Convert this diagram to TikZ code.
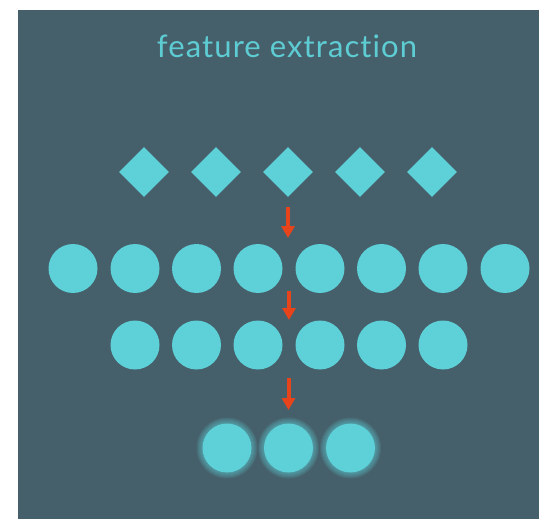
\documentclass[tikz,border=0pt]{standalone}
\usepackage{fontspec}
\setmainfont{Lato}[Ligatures={NoCommon,NoRare}]
\newfontfamily\titlefont{Lato}[Ligatures={NoCommon,NoRare},LetterSpace=3.5]
\usetikzlibrary{shapes.geometric,arrows.meta}
\definecolor{slate}{HTML}{46606B}
\definecolor{teal}{HTML}{5DD0D8}
\definecolor{titlecol}{HTML}{5ECDD3}
\definecolor{arrowred}{HTML}{E8441C}
\tikzset{
  unit/.style={circle,fill=teal,minimum size=49pt,inner sep=0pt},
  feat/.style={diamond,fill=teal,minimum width=50pt,minimum height=50pt,inner sep=0pt,aspect=1},
  flow/.style={draw=arrowred,line width=4pt,-{Triangle[width=13pt,length=12pt]}},
}
\begin{document}
\begin{tikzpicture}[x=1pt,y=-1pt]
  \useasboundingbox (0,0) rectangle (539,519);
  \fill[slate] (18,10) rectangle (539,519);

  \node[text=titlecol,font=\titlefont\fontsize{31}{34}\selectfont,anchor=base] (title) at (287,58) {feature extraction};

  % input features
  \foreach \i/\x in {1/144,2/216,3/288,4/360,5/432}
    \node[feat] (d\i) at (\x,172) {};

  % first hidden layer
  \foreach \i/\x in {1/73,2/135,3/196.5,4/258,5/320,6/381.5,7/443,8/505}
    \node[unit] (a\i) at (\x,268.5) {};

  % second hidden layer
  \foreach \i/\x in {1/135,2/196.5,3/258,4/320,5/381.5,6/443}
    \node[unit] (b\i) at (\x,345) {};

  % extracted features, with a soft halo
  \foreach \i/\x in {1/227,2/288.5,3/350.5}{
    \foreach \r in {30.5,29.5,28.5,27.5,26.5,25.5}
      \fill[teal,opacity=0.11] (\x,448) circle (\r);
    \node[unit] (c\i) at (\x,448) {};
  }

  % flow arrows between layers
  \coordinate (s1) at (288,207);
  \coordinate (e1) at (288,238);
  \coordinate (s2) at (289,291);
  \coordinate (e2) at (289,320);
  \coordinate (s3) at (288.5,378);
  \coordinate (e3) at (288.5,410);
  \draw[flow] (s1) -- (e1);
  \draw[flow] (s2) -- (e2);
  \draw[flow] (s3) -- (e3);
\end{tikzpicture}
\end{document}
